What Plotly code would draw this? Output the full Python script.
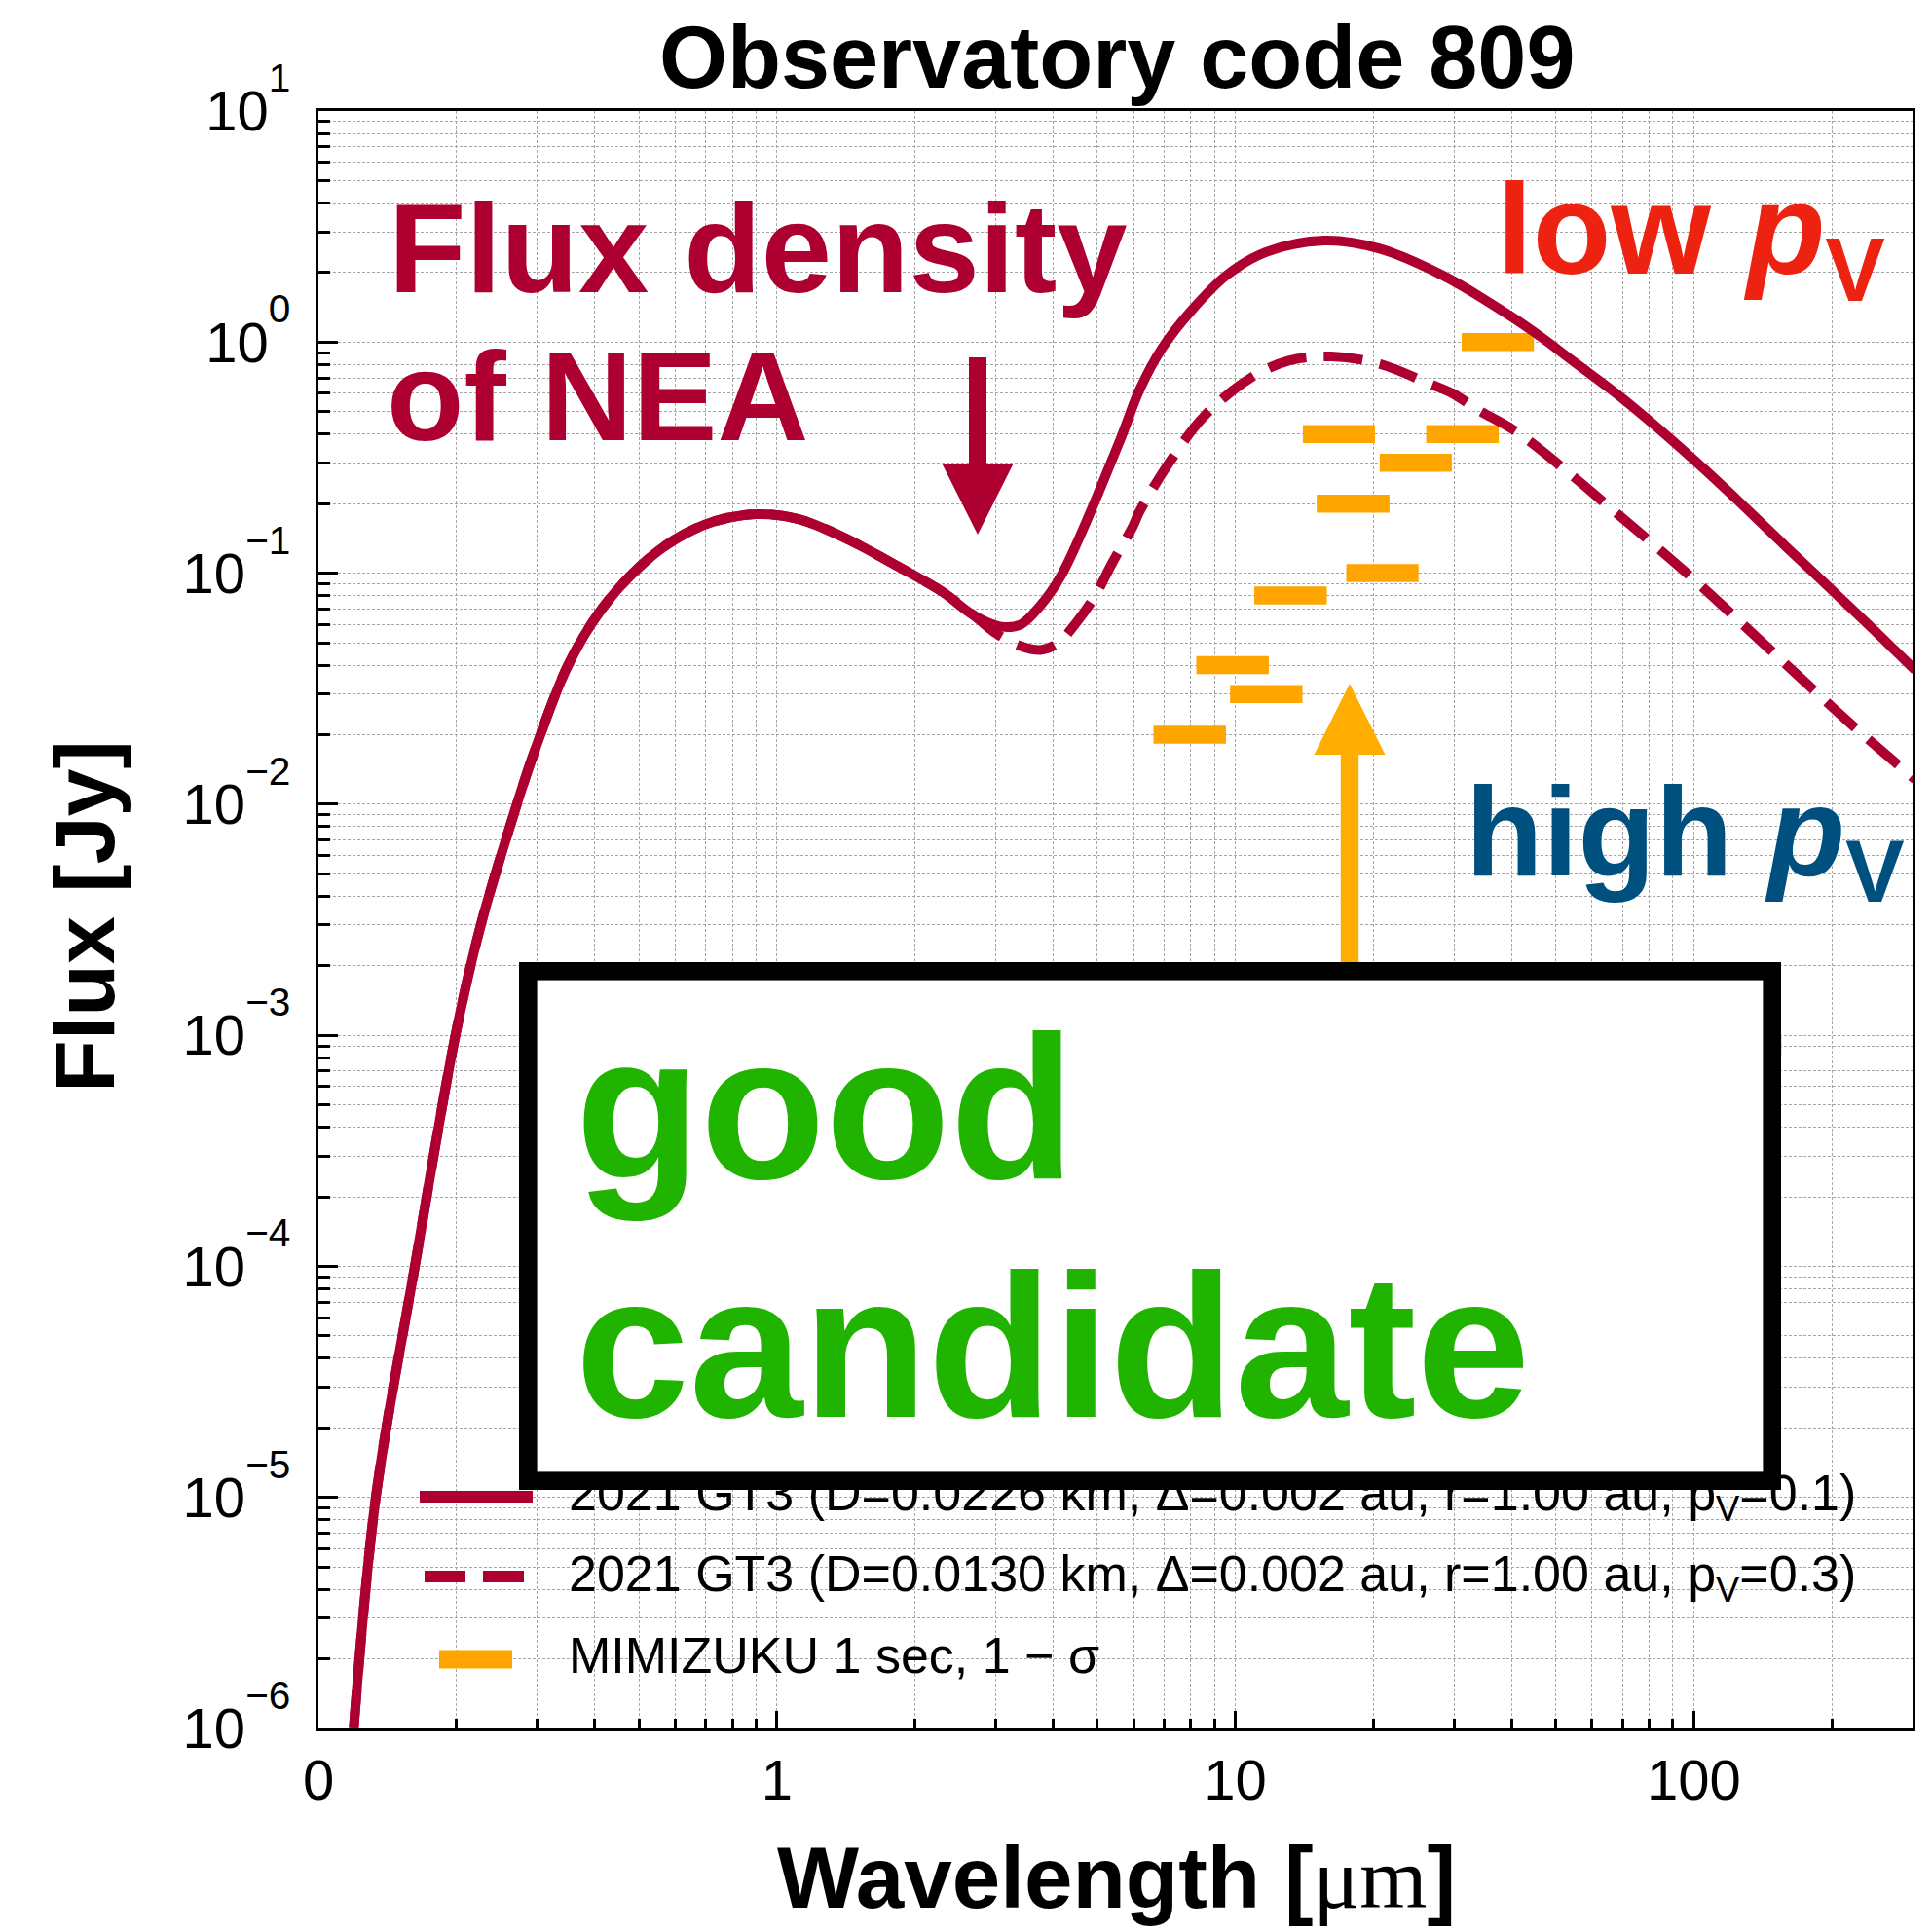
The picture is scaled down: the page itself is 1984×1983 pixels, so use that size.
import math
import plotly.graph_objects as go

# ---------------- data ----------------
# low albedo model (solid), 2021 GT3, D=0.0226 km, pV=0.1
wl_low_pv = [0.1194, 0.1334, 0.1623, 0.199, 0.226, 0.271, 0.294, 0.350, 0.4125,
             0.5017, 0.600, 0.730, 0.9024, 1.115, 1.401, 1.789, 2.286, 2.69, 3.09,
             3.407, 3.727, 4.178, 5.604, 6.18, 6.93, 8.02, 9.6, 11.67, 15.65, 20.65,
             28.6, 39.6, 46.8, 54.95, 70.4, 105.8, 159, 239, 304]
flux_low_pv = [1e-6, 1e-5, 1e-4, 1e-3, 3e-3, 1e-2, 0.0163, 0.0398, 0.0689,
               0.1066, 0.140, 0.1676, 0.1799, 0.1714, 0.1425, 0.1101, 0.0835, 0.0656, 0.0586,
               0.060, 0.0711, 0.0983, 0.376, 0.621, 0.945, 1.37, 1.956, 2.45, 2.75, 2.535,
               1.926, 1.306, 1.04, 0.817, 0.5635, 0.280, 0.130, 0.0605, 0.038]

# high albedo model (dashed), 2021 GT3, D=0.0130 km, pV=0.3
wl_high_pv = [0.1194, 0.1334, 0.1623, 0.199, 0.226, 0.271, 0.294, 0.350, 0.4125,
              0.5017, 0.600, 0.730, 0.9024, 1.115, 1.401, 1.789, 2.286, 2.69, 3.0,
              3.38, 3.757, 4.11, 4.457, 4.92, 5.38, 5.98, 6.18, 7.155, 8.56, 10.76,
              13.08, 16.2, 20.65, 26.4, 29.7, 33.7, 41.1, 54.95, 62.8, 97.5, 146.6,
              220.4, 304]
flux_high_pv = [1e-6, 1e-5, 1e-4, 1e-3, 3e-3, 1e-2, 0.0163, 0.0398, 0.0689,
                0.1066, 0.140, 0.1676, 0.1799, 0.1714, 0.1425, 0.1101, 0.0835, 0.0656, 0.055,
                0.0486, 0.0465, 0.0499, 0.0596, 0.0784, 0.110, 0.1596, 0.1847, 0.298, 0.479, 0.696,
                0.831, 0.866, 0.804, 0.662, 0.601, 0.511, 0.408, 0.259, 0.207, 0.0983, 0.0467,
                0.0222, 0.0128]

# MIMIZUKU 1 sec 1-sigma sensitivities: band edges [um] and flux [Jy]
band_lo_um = [31.16, 14.04, 26.08, 20.65, 15.05, 17.46, 11.0, 8.22, 9.74, 6.63, 107.9]
band_hi_um = [44.81, 20.16, 37.53, 29.67, 21.69, 25.1, 15.83, 11.83, 14.01, 9.54, 155.3]
band_flux_jy = [1.0, 0.4, 0.4, 0.3, 0.2, 0.1, 0.08, 0.04, 0.03, 0.02, 9e-4]

xtick_vals = [0.1, 1, 10, 100]
xtick_text = ["0", "1", "10", "100"]
ytick_exps = [-6, -5, -4, -3, -2, -1, 0, 1]

legend_labels = [
    "2021 GT3 (D=0.0226 km, \u0394=0.002 au, r=1.00 au, p<sub>V</sub>=0.1)",
    "2021 GT3 (D=0.0130 km, \u0394=0.002 au, r=1.00 au, p<sub>V</sub>=0.3)",
    "MIMIZUKU 1 sec, 1 \u2212 \u03c3",
]

# ---------------- styling ----------------
SW, SH = 1984, 1983          # screen size
OFF = 8                      # page body margin
W, H = SW - OFF, SH - OFF    # figure size
PL, PR, PT, PB = 327, 1964, 114, 1775   # plot area in screen pixels
FONT = "Liberation Sans, Arial, Helvetica, sans-serif"
CRIMSON = "#AD0030"
ORANGE = "#FFA500"
ARROW_ORANGE = "#FFAD00"
GREEN = "#20B400"
RED = "#EE2210"
BLUE = "#00507F"
GRID = "#A6A6A6"
GDASH = "3px,2px"


def px(X):
    return (X - PL) / (PR - PL)


def py(Y):
    return (PB - Y) / (PB - PT)


fig = go.Figure()

# MIMIZUKU bars (horizontal segments)
bx, by = [], []
for lo, hi, f in zip(band_lo_um, band_hi_um, band_flux_jy):
    bx += [lo, hi, None]
    by += [f, f, None]
fig.add_trace(go.Scatter(x=bx, y=by, mode="lines", line=dict(color=ORANGE, width=18.5),
                         showlegend=False, hoverinfo="skip"))

fig.add_trace(go.Scatter(x=wl_high_pv, y=flux_high_pv, mode="lines",
                         line=dict(color=CRIMSON, width=10, dash="40px,18px", shape="spline", smoothing=1.0),
                         showlegend=False))
fig.add_trace(go.Scatter(x=wl_low_pv, y=flux_low_pv, mode="lines",
                         line=dict(color=CRIMSON, width=10, shape="spline", smoothing=1.0),
                         showlegend=False))

xminor = [k * 10 ** e for e in (-1, 0, 1, 2) for k in range(2, 10) if k * 10 ** e <= 300]
yminor = [k * 10 ** e for e in range(-6, 1) for k in range(2, 10)]

axis_common = dict(
    type="log", showline=True, linewidth=3, linecolor="black", mirror=True,
    ticks="inside", tickwidth=2.5, tickcolor="black",
    showgrid=True, gridcolor=GRID, gridwidth=1, griddash=GDASH,
    zeroline=False, tickfont=dict(family=FONT, size=58, color="black"),
)


def ylab(e):
    s = ("\u2212%d" % (-e)) if e < 0 else "%d" % e
    return "10<sup><span style='baseline-shift:16px'>%s</span></sup>" % s


fig.update_xaxes(**axis_common, range=[-1, math.log10(300)], tickmode="array",
                 tickvals=xtick_vals, ticktext=xtick_text, ticklen=18, ticklabelstandoff=0,
                 minor=dict(tickmode="array", tickvals=xminor, ticks="inside", ticklen=10,
                            tickwidth=2.5, tickcolor="black", showgrid=True, gridcolor=GRID,
                            gridwidth=1, griddash=GDASH))
fig.update_yaxes(**axis_common, range=[-6, 1], tickmode="array",
                 tickvals=[10 ** e for e in ytick_exps],
                 ticktext=[ylab(e) for e in ytick_exps],
                 ticklen=20, ticklabelstandoff=14,
                 minor=dict(tickmode="array", tickvals=yminor, ticks="inside", ticklen=12,
                            tickwidth=2.5, tickcolor="black", showgrid=True, gridcolor=GRID,
                            gridwidth=1, griddash=GDASH))

shapes = []
# crimson down arrow
cx = 1004
shapes.append(dict(type="path", xref="paper", yref="paper", fillcolor=CRIMSON, line=dict(width=0),
                   path="M %f,%f L %f,%f L %f,%f L %f,%f L %f,%f L %f,%f L %f,%f Z" % (
                       px(cx - 9), py(367), px(cx + 9), py(367), px(cx + 9), py(476),
                       px(cx + 36.7), py(476), px(cx), py(549), px(cx - 36.7), py(476),
                       px(cx - 9), py(476))))
# orange up arrow
ox = 1386
shapes.append(dict(type="path", xref="paper", yref="paper", fillcolor=ARROW_ORANGE, line=dict(width=0),
                   path="M %f,%f L %f,%f L %f,%f L %f,%f L %f,%f L %f,%f L %f,%f Z" % (
                       px(ox - 9.2), py(1000), px(ox + 9.2), py(1000), px(ox + 9.2), py(775),
                       px(ox + 36.5), py(775), px(ox), py(702), px(ox - 36.5), py(775),
                       px(ox - 9.2), py(775))))
# legend samples
shapes.append(dict(type="line", xref="paper", yref="paper", x0=px(431), x1=px(547), y0=py(1537), y1=py(1537),
                   line=dict(color=CRIMSON, width=12)))
shapes.append(dict(type="line", xref="paper", yref="paper", x0=px(436), x1=px(538), y0=py(1619), y1=py(1619),
                   line=dict(color=CRIMSON, width=12, dash="42px,18px")))
shapes.append(dict(type="line", xref="paper", yref="paper", x0=px(451), x1=px(526), y0=py(1704), y1=py(1704),
                   line=dict(color=ORANGE, width=19)))

annotations = []


def text_ann(text, X, Ybase, size, color, xanchor="left", weight="bold"):
    return dict(text=text, xref="paper", yref="paper", x=px(X), y=py(Ybase - 0.3465 * size),
                xanchor=xanchor, yanchor="middle", showarrow=False,
                font=dict(family=FONT, size=size, color=color, weight=weight))


# legend texts
for lab, yb in zip(legend_labels, [1555, 1637.7, 1718.3]):
    annotations.append(text_ann(lab, 582, yb, 52, "black", weight="normal"))

# white box with thick black frame (drawn above legend row 1)
BW = 18.6
annotations.append(dict(text=" ", xref="paper", yref="paper", x=px(533), y=py(988),
                        xanchor="left", yanchor="top", showarrow=False,
                        width=1296 - 2 * BW, height=542 - 2 * BW, borderpad=0,
                        borderwidth=BW, bordercolor="black", bgcolor="white",
                        font=dict(family=FONT, size=10)))
annotations.append(text_ann("good", 589, 1210, 210, GREEN))
annotations.append(text_ann("candidate", 589, 1455, 210, GREEN))

annotations.append(text_ann("Flux density", 397, 300, 130, CRIMSON))
annotations.append(text_ann("of NEA", 395, 452, 130, CRIMSON))
annotations.append(text_ann("low <i>p</i><sub>V</sub>", 1535, 291, 132, RED))
annotations.append(text_ann("high <i>p</i><sub>V</sub>", 1503, 908, 130, BLUE))

# title and axis titles
annotations.append(text_ann("Observatory code 809", 1147, 90, 90, "black", xanchor="center"))
annotations.append(text_ann("Wavelength [<span style='font-family:Liberation Serif;font-weight:normal'>\u03bcm</span>]",
                            1146, 1959, 89, "black", xanchor="center"))
annotations.append(dict(text="Flux [Jy]", xref="paper", yref="paper", x=px(86), y=py(941),
                        xanchor="center", yanchor="middle", textangle=-90, showarrow=False,
                        font=dict(family=FONT, size=88, color="black", weight="bold")))

fig.update_layout(
    width=W, height=H, autosize=False,
    margin=dict(l=PL - OFF, r=SW - PR, t=PT - OFF, b=SH - PB, pad=0),
    paper_bgcolor="white", plot_bgcolor="white",
    showlegend=False, shapes=shapes, annotations=annotations,
    font=dict(family=FONT, color="black"),
)

fig.write_html("out.html")
